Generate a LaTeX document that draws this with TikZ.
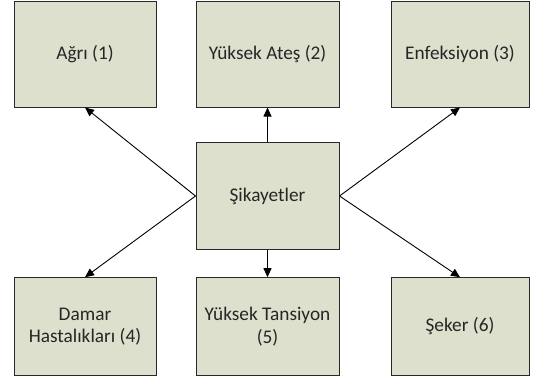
\documentclass[tikz,border=0pt]{standalone}
\usepackage{fontspec}
\setmainfont{Carlito}
\usetikzlibrary{arrows.meta}
\definecolor{boxfill}{RGB}{221,224,204}
\definecolor{boxline}{RGB}{40,40,40}
\tikzset{
  sbox/.style={draw=boxline, line width=1pt, fill=boxfill, inner sep=0pt, align=center,
    font=\fontsize{19.3}{22.5}\selectfont, text=black!85},
  conn/.style={draw=black, line width=0.9pt, -{Triangle[length=9pt,width=8pt]}}
}
\begin{document}
\begin{tikzpicture}[x=1pt,y=-1pt]
\useasboundingbox (0,0) rectangle (540,389);
\node[sbox, minimum width=142pt, minimum height=106pt] (a) at (85,54) {Ağrı (1)};
\node[sbox, minimum width=143pt, minimum height=106pt] (b) at (267.5,54) {Yüksek Ateş (2)};
\node[sbox, minimum width=138pt, minimum height=106pt] (c) at (460,54) {Enfeksiyon (3)};
\node[sbox, minimum width=143pt, minimum height=106.5pt] (s) at (267.5,196) {Şikayetler};
\node[sbox, minimum width=142pt, minimum height=97.6pt] (d) at (85,326.5) {Damar\\Hastalıkları (4)};
\node[sbox, minimum width=143pt, minimum height=97.6pt] (e) at (267.5,326.5) {Yüksek Tansiyon\\(5)};
\node[sbox, minimum width=138pt, minimum height=97.6pt] (f) at (460,326.5) {Şeker (6)};
\draw[conn] (s.north) -- (b.south);
\draw[conn] (s.west) -- (a.south);
\draw[conn] (s.east) -- (c.south);
\draw[conn] (s.south) -- (e.north);
\draw[conn] (s.west) -- (d.north);
\draw[conn] (s.east) -- (f.north);
\end{tikzpicture}
\end{document}
